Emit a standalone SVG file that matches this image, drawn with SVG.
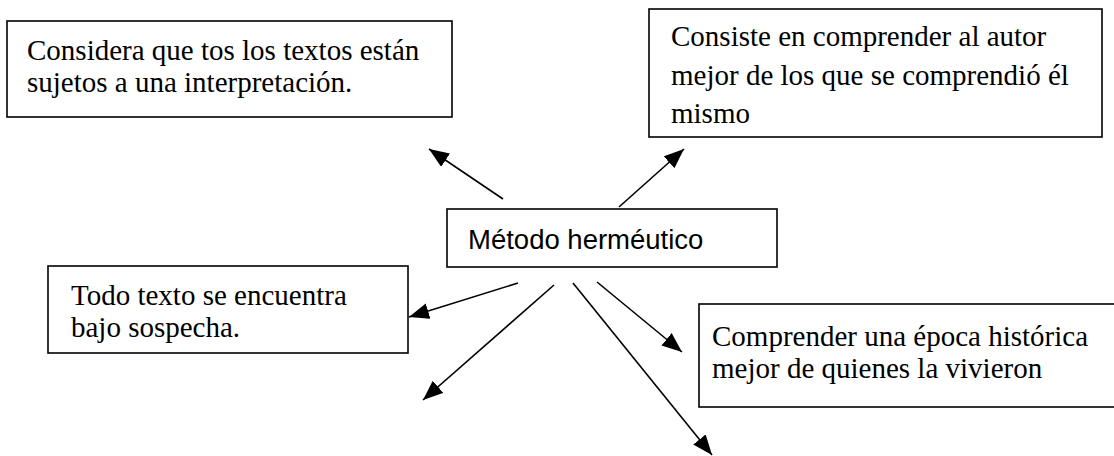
<svg xmlns="http://www.w3.org/2000/svg" width="1114" height="456" viewBox="0 0 1114 456">
  <style>
    .box { fill: #ffffff; stroke: #000000; stroke-width: 1.6; }
    .serif { font-family: "Liberation Serif", "Times New Roman", serif; font-size: 29px; fill: #000000; }
    .sans { font-family: "Liberation Sans", Arial, sans-serif; font-size: 27.5px; fill: #000000; }
    .conn { stroke: #000000; stroke-width: 1.6; fill: none; marker-end: url(#arrow); }
  </style>
  <defs>
    <marker id="arrow" markerUnits="userSpaceOnUse" markerWidth="22" markerHeight="18" refX="20" refY="8" orient="auto">
      <path d="M0,0 L20,8 L0,16 Z" fill="#000000"/>
    </marker>
  </defs>
  <rect x="0" y="0" width="1114" height="456" fill="#ffffff"/>

  <g id="node-interpretacion">
    <rect class="box" x="7" y="21" width="445" height="96"/>
    <text class="serif" x="27" y="60">Considera que tos los textos están</text>
    <text class="serif" x="27" y="92">sujetos a una interpretación.</text>
  </g>

  <g id="node-autor">
    <rect class="box" x="649" y="9" width="453" height="128"/>
    <text class="serif" x="671" y="46">Consiste en comprender al autor</text>
    <text class="serif" x="671" y="85">mejor de los que se comprendió él</text>
    <text class="serif" x="671" y="123">mismo</text>
  </g>

  <g id="node-metodo">
    <rect class="box" x="447" y="209" width="330" height="58"/>
    <text class="sans" x="468" y="249">Método herméutico</text>
  </g>

  <g id="node-sospecha">
    <rect class="box" x="48" y="266" width="360" height="87"/>
    <text class="serif" x="71" y="305">Todo texto se encuentra</text>
    <text class="serif" x="71" y="337">bajo sospecha.</text>
  </g>

  <g id="node-epoca">
    <rect class="box" x="699" y="304" width="420" height="103"/>
    <text class="serif" x="712" y="346">Comprender una época histórica</text>
    <text class="serif" x="712" y="378">mejor de quienes la vivieron</text>
  </g>

  <g id="connectors">
    <line class="conn" x1="503" y1="199" x2="429" y2="149"/>
    <line class="conn" x1="619" y1="207" x2="684" y2="149"/>
    <line class="conn" x1="518" y1="283" x2="409" y2="317"/>
    <line class="conn" x1="554" y1="285" x2="423" y2="400"/>
    <line class="conn" x1="573" y1="283" x2="712" y2="455"/>
    <line class="conn" x1="597" y1="282" x2="682" y2="352"/>
  </g>
</svg>
